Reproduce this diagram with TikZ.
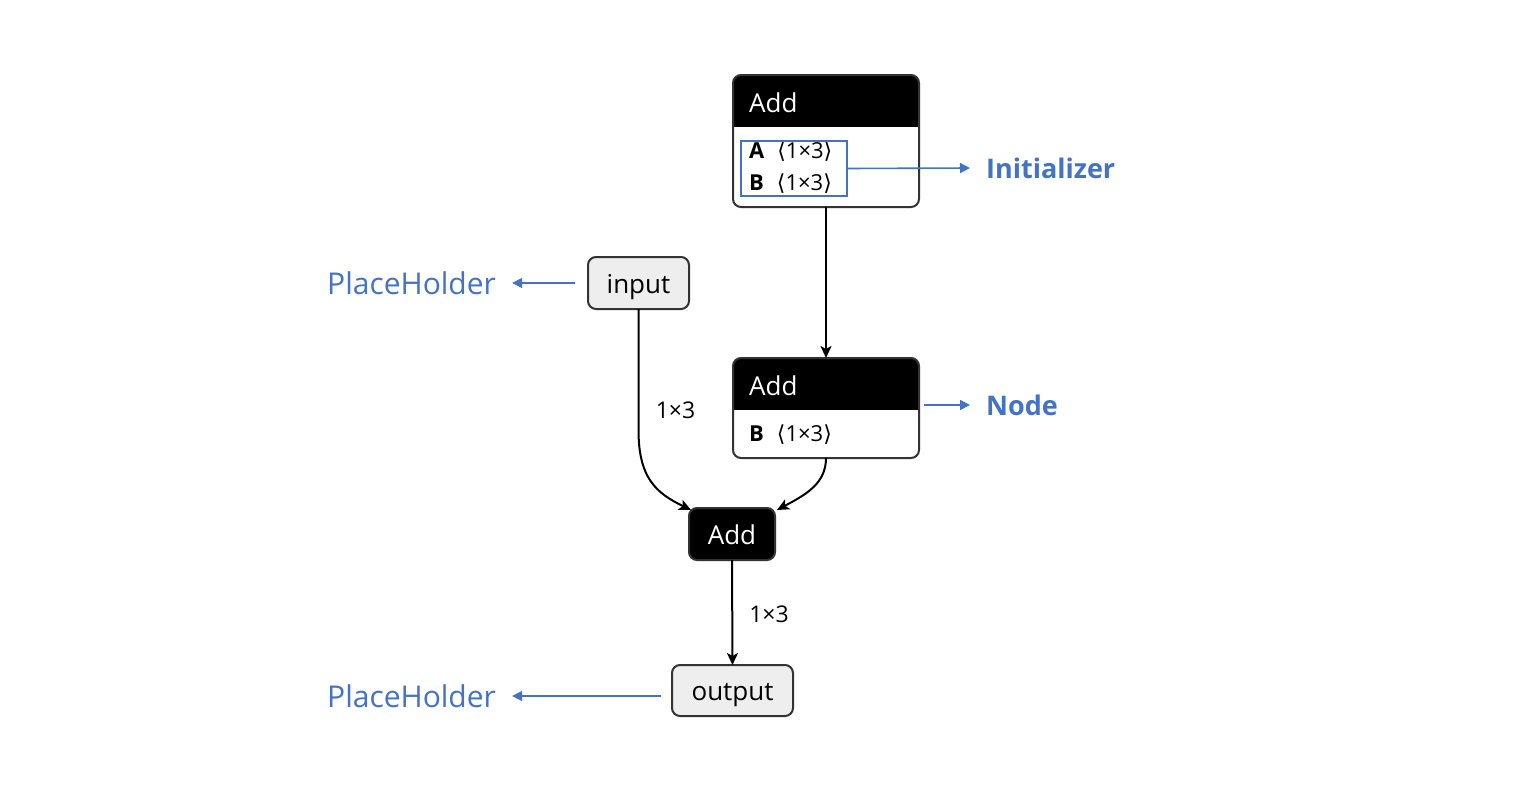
\documentclass[tikz,border=0pt]{standalone}
\usepackage{fontspec}
\setmainfont{Open Sans}
\newfontfamily\symf{DejaVu Sans}
\usetikzlibrary{arrows.meta,calc}
\definecolor{ublue}{HTML}{4472C4}
\definecolor{bord}{HTML}{333333}
\definecolor{phfill}{HTML}{EEEEEE}
\newcommand{\fs}[1]{\fontsize{#1}{#1}\selectfont}
\begin{document}
\begin{tikzpicture}[x=1pt,y=-1pt,
  frame/.style={inner sep=0pt, outer sep=0pt},
  phbox/.style={draw=bord, line width=2pt, rounded corners=8pt, fill=phfill, inner sep=0pt, outer sep=0pt, font=\fs{26}, text height=20pt, text depth=0pt},
  opbox/.style={draw=bord, line width=2pt, rounded corners=8pt, fill=black, text=white, inner sep=0pt, outer sep=0pt, font=\fs{26}, text height=20pt, text depth=0pt},
  edge/.style={draw=black, line width=2pt, -{Stealth[length=12pt,width=11pt,inset=3pt]}},
  barrow/.style={draw=ublue, line width=1.6pt, -{Triangle[length=10pt,width=10pt]}},
  blbl/.style={text=ublue, inner sep=0pt, anchor=west, font=\fs{30}},
  hdr/.style={text=white, inner sep=0pt, anchor=west, font=\fs{26}},
  row/.style={inner sep=0pt, anchor=west, font=\fs{22}},
  elbl/.style={inner sep=0pt, font=\fs{23}}
]
\useasboundingbox[fill=white] (0,0) rectangle (1535,793);

% top Add node
\node[frame, minimum width=186pt, minimum height=132pt] (add1) at (826,141) {};
\fill[white, rounded corners=8pt] (add1.north west) rectangle (add1.south east);
\begin{scope}
  \clip[rounded corners=8pt] (add1.north west) rectangle (add1.south east);
  \fill[black] (add1.north west) rectangle ($(add1.north east)+(0,52)$);
\end{scope}
\draw[bord, line width=2pt, rounded corners=8pt] (add1.north west) rectangle (add1.south east);
\node[hdr] (add1t) at (749,103) {Add};
\node[row] (rowA) at (749,152) {\textbf{A}\hspace{13pt}{\symf ⟨}1×3{\symf ⟩}};
\node[row] (rowB) at (749,184) {\textbf{B}\hspace{13pt}{\symf ⟨}1×3{\symf ⟩}};
\node[draw=ublue, line width=2pt, inner sep=0pt, outer sep=0pt, minimum width=106pt, minimum height=55pt] (initbox) at (794,168.5) {};

% middle Add node
\node[frame, minimum width=186pt, minimum height=100pt] (add2) at (826,408) {};
\fill[white, rounded corners=8pt] (add2.north west) rectangle (add2.south east);
\begin{scope}
  \clip[rounded corners=8pt] (add2.north west) rectangle (add2.south east);
  \fill[black] (add2.north west) rectangle ($(add2.north east)+(0,52)$);
\end{scope}
\draw[bord, line width=2pt, rounded corners=8pt] (add2.north west) rectangle (add2.south east);
\node[hdr] (add2t) at (749,386) {Add};
\node[row] (rowB2) at (749,435) {\textbf{B}\hspace{13pt}{\symf ⟨}1×3{\symf ⟩}};

% input, bottom Add, output
\node[phbox, minimum width=101pt, minimum height=52pt] (input) at (638.5,283) {input};
\node[opbox, minimum width=86pt, minimum height=52pt] (add3) at (732,534) {Add};
\node[phbox, minimum width=121pt, minimum height=51pt] (output) at (732.5,690.5) {output};

% edges
\draw[edge] (add1.south) -- (add2.north);
\coordinate (t1) at ($(add3.north west)+(2,2)$);
\coordinate (t2) at ($(add3.north east)+(2,2)$);
\draw[edge] (input.south) -- ($(input.south)+(0,121)$) .. controls ($(input.south)+(0,169)$) and (656,493) .. (t1);
\draw[edge] (add2.south) .. controls (826,484) and (805,495) .. (t2);
\draw[edge] (add3.south) -- (output.north);
\node[elbl] (l1) at (675.5,410) {1×3};
\node[elbl] (l2) at (769,614) {1×3};

% blue annotations
\node[blbl, font=\fs{27}\bfseries] (initl) at (986,168) {Initializer};
\draw[barrow] (initbox.east) -- ([xshift=-16pt]initl.west);
\node[blbl, font=\fs{27}\bfseries] (nodel) at (986,405) {Node};
\draw[barrow] ([xshift=5pt,yshift=3pt]add2.east) -- ([xshift=-16pt]nodel.west);
\node[blbl] (ph1) at (327,283) {PlaceHolder};
\draw[barrow] ([xshift=-13pt]input.west) -- ([xshift=16pt]ph1.east);
\node[blbl] (ph2) at (327,696) {PlaceHolder};
\coordinate (o1) at ($(output.west)+(-11,5.5)$);
\draw[barrow] (o1) -- ([xshift=16pt]ph2.east);
\end{tikzpicture}
\end{document}
